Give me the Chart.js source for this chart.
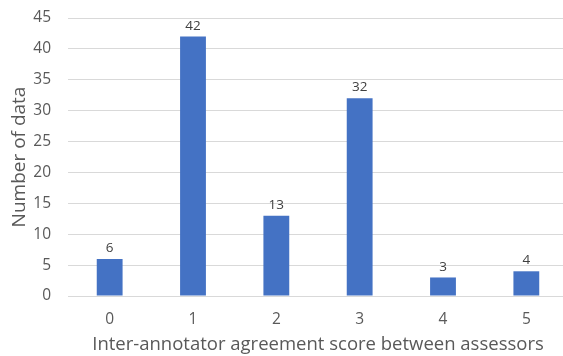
<!DOCTYPE html>
<html lang="en">
<head>
  <meta charset="UTF-8">
  <title>Inter-annotator agreement</title>
  <script src="https://cdn.jsdelivr.net/npm/chart.js"></script>
  <style>
    html, body { margin: 0; padding: 0; background: #fff; overflow: hidden; }
    #wrap { width: 568px; height: 356px; }
  </style>
</head>
<body>
  <div id="wrap"><canvas id="chart"></canvas></div>
  <script>
    // values
    const scores = ['0', '1', '2', '3', '4', '5'];
    const counts = [6, 42, 13, 32, 3, 4];
    const yTicks = [0, 5, 10, 15, 20, 25, 30, 35, 40, 45];

    const fontFamily = "'Open Sans', 'Liberation Sans', sans-serif";
    const textColor = '#595959';

    // draws the number above each bar
    const barLabels = {
      id: 'barLabels',
      afterDatasetsDraw(chart) {
        const ctx = chart.ctx;
        const meta = chart.getDatasetMeta(0);
        ctx.save();
        ctx.font = '13.5px ' + fontFamily;
        ctx.fillStyle = '#404040';
        ctx.textAlign = 'center';
        ctx.textBaseline = 'bottom';
        meta.data.forEach((bar, i) => {
          ctx.fillText(counts[i], bar.x, bar.y - 4);
        });
        ctx.restore();
      }
    };

    new Chart(document.getElementById('chart'), {
      type: 'bar',
      data: {
        labels: scores,
        datasets: [{
          data: counts,
          backgroundColor: '#4472C4',
          barPercentage: 1,
          categoryPercentage: 0.31
        }]
      },
      options: {
        responsive: true,
        maintainAspectRatio: false,
        animation: false,
        layout: { padding: { top: 18, right: 0, bottom: 0, left: 0 } },
        plugins: {
          legend: { display: false },
          tooltip: { enabled: false }
        },
        scales: {
          x: {
            grid: { display: false, drawTicks: false },
            border: { display: false },
            ticks: { color: textColor, font: { family: fontFamily, size: 15.5 }, padding: 14 },
            title: {
              display: true,
              text: 'Inter-annotator agreement score between assessors',
              color: textColor,
              font: { family: fontFamily, size: 18.5 },
              padding: { top: 7, bottom: 0 }
            },
            afterFit(scale) {
              scale.height = 60;
              scale.paddingLeft = 0;
              scale.paddingRight = 0;
            }
          },
          y: {
            min: 0,
            max: 45,
            afterBuildTicks(scale) { scale.ticks = yTicks.map(v => ({ value: v })); },
            grid: { color: '#d9d9d9', lineWidth: 1, drawTicks: false },
            border: { display: false },
            ticks: { color: textColor, font: { family: fontFamily, size: 15.5 }, padding: 17 },
            title: {
              display: true,
              text: 'Number of data',
              color: textColor,
              font: { family: fontFamily, size: 19 },
              padding: { top: 8, bottom: 4 }
            },
            afterFit(scale) {
              scale.width = 68;
              scale.paddingTop = 0;
              scale.paddingBottom = 0;
            }
          }
        }
      },
      plugins: [barLabels]
    });
  </script>
</body>
</html>
